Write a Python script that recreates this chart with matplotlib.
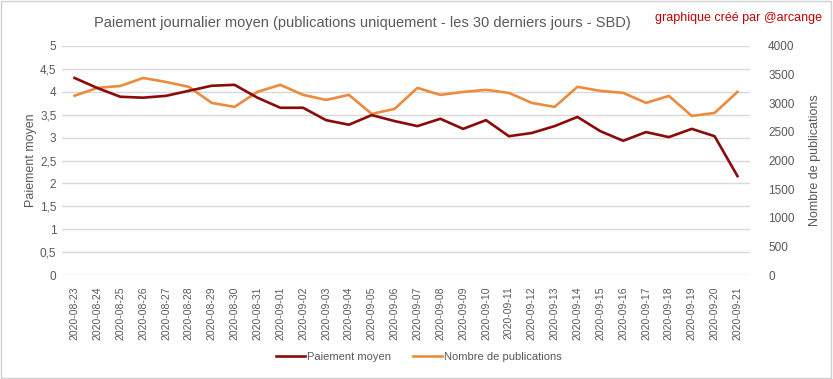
import matplotlib
matplotlib.use("Agg")
import matplotlib.pyplot as plt
from matplotlib.ticker import FuncFormatter, MultipleLocator

plt.rcParams['font.family'] = ['Liberation Sans', 'DejaVu Sans']

dates = ["2020-08-23", "2020-08-24", "2020-08-25", "2020-08-26", "2020-08-27",
         "2020-08-28", "2020-08-29", "2020-08-30", "2020-08-31", "2020-09-01",
         "2020-09-02", "2020-09-03", "2020-09-04", "2020-09-05", "2020-09-06",
         "2020-09-07", "2020-09-08", "2020-09-09", "2020-09-10", "2020-09-11",
         "2020-09-12", "2020-09-13", "2020-09-14", "2020-09-15", "2020-09-16",
         "2020-09-17", "2020-09-18", "2020-09-19", "2020-09-20", "2020-09-21"]
paiement = [4.30, 4.08, 3.89, 3.87, 3.91, 4.02, 4.13, 4.15, 3.87, 3.65,
            3.65, 3.38, 3.28, 3.49, 3.36, 3.25, 3.41, 3.19, 3.38, 3.03,
            3.10, 3.25, 3.45, 3.14, 2.93, 3.12, 3.01, 3.19, 3.03, 2.16]
publications = [3130, 3267, 3300, 3440, 3370, 3285, 3005, 2935, 3197, 3320,
                3145, 3057, 3145, 2813, 2900, 3267, 3145, 3197, 3232, 3180,
                3005, 2935, 3285, 3215, 3180, 3005, 3127, 2778, 2830, 3197]

gris = "#595959"
rouge = "#8b0a0a"
orange = "#ec8b3e"

fig = plt.figure(figsize=(8.33, 3.79), dpi=100)
fig.patches.append(plt.Rectangle((0.001, 0.002), 0.997, 0.995, transform=fig.transFigure,
                                 fill=False, edgecolor="#d0d0d0", linewidth=1))
ax = fig.add_axes([0.0744, 0.274, 0.826, 0.605])
ax2 = ax.twinx()

x = range(len(dates))
l2, = ax2.plot(x, publications, color=orange, linewidth=1.9, label="Nombre de publications")
l1, = ax.plot(x, paiement, color=rouge, linewidth=1.9, label="Paiement moyen")
ax.set_zorder(ax2.get_zorder() + 1)
ax.patch.set_visible(False)

ax.set_ylim(0, 5)
ax.yaxis.set_major_locator(MultipleLocator(0.5))
ax.yaxis.set_major_formatter(FuncFormatter(lambda v, p: f"{v:g}".replace(".", ",")))
ax2.set_ylim(0, 4000)
ax2.yaxis.set_major_locator(MultipleLocator(500))
ax.set_xlim(-0.55, len(dates) - 0.45)

# grille sur l'axe de gauche, derrière les courbes
for v in [i * 0.5 for i in range(11)]:
    ax2.axhline(v * 800, color="#d9d9d9", linewidth=1, zorder=0)

for a in (ax, ax2):
    for s in a.spines.values():
        s.set_visible(False)
    a.tick_params(length=0, colors=gris, labelsize=8.5)

ax.set_xticks(list(x))
ax.set_xticklabels(dates, rotation=90, fontsize=7.5, color=gris)
ax.tick_params(axis="x", pad=8)
ax.tick_params(axis="y", pad=4)
ax2.tick_params(axis="y", pad=13)

ax.set_ylabel("Paiement moyen", color=gris, fontsize=9)
ax2.set_ylabel("Nombre de publications", color=gris, fontsize=9)
ax.yaxis.set_label_coords(-0.036, 0.5)
ax2.yaxis.set_label_coords(1.085, 0.5)

fig.text(0.435, 0.94, "Paiement journalier moyen (publications uniquement - les 30 derniers jours - SBD)",
         ha="center", va="center", fontsize=10.5, color=gris)
fig.text(0.987, 0.953, "graphique créé par @arcange", ha="right", va="center",
         fontsize=9, color="#c00000")

fig.legend(handles=[l1, l2], loc="center", bbox_to_anchor=(0.503, 0.058), ncol=2,
           frameon=False, fontsize=8, labelcolor=gris, handlelength=2.6,
           handletextpad=0.2, columnspacing=2)

fig.savefig("out.png", dpi=100)
